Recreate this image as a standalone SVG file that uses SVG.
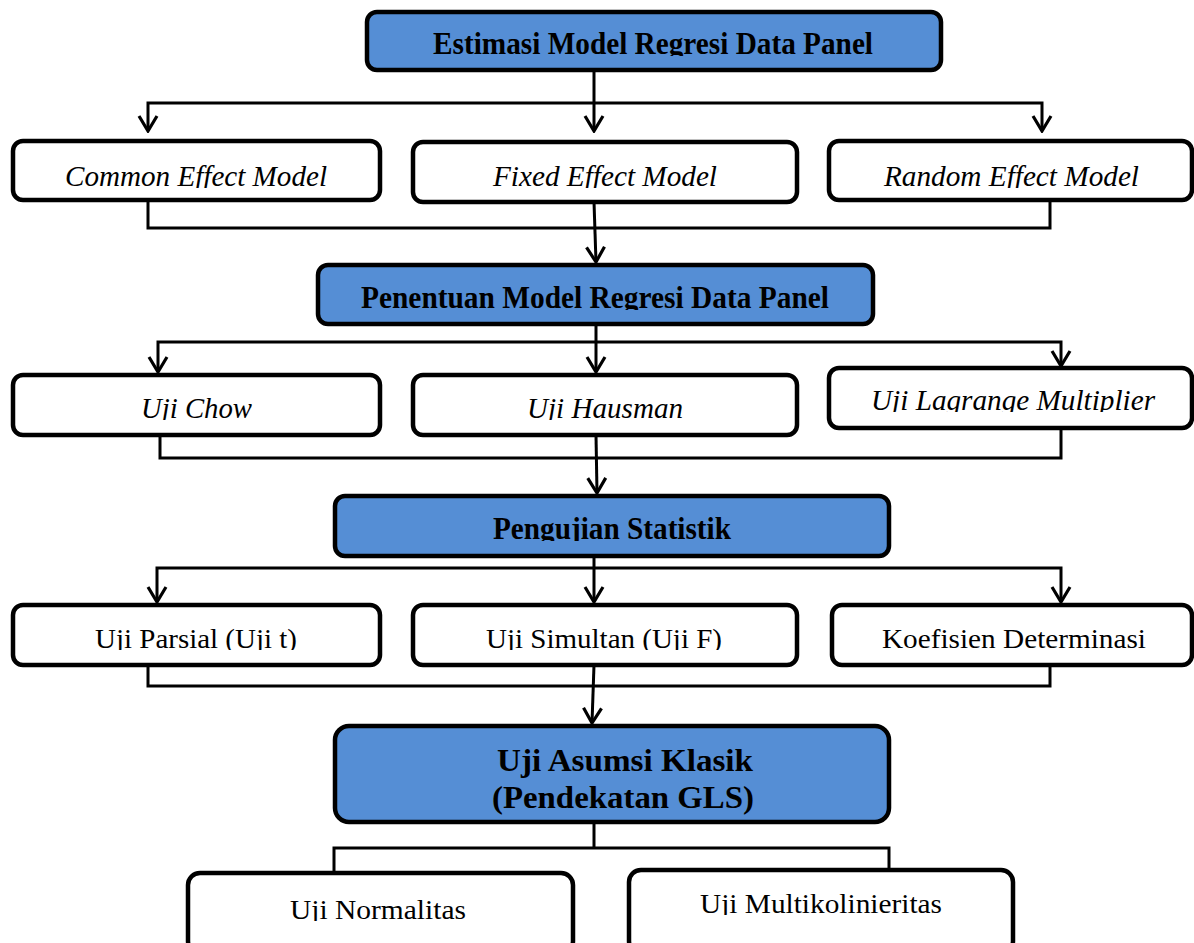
<svg xmlns="http://www.w3.org/2000/svg" width="1194" height="943" viewBox="0 0 1194 943">
<defs>
<marker id="arr" markerUnits="userSpaceOnUse" markerWidth="30" markerHeight="30" refX="28" refY="15" orient="auto-start-reverse" viewBox="0 0 30 30">
<polyline points="13,6 28,15 13,24" fill="none" stroke="#000" stroke-width="3.2" stroke-linejoin="miter"/>
</marker>
<clipPath id="c1" clipPathUnits="userSpaceOnUse"><rect x="0" y="0" width="1194" height="56"/></clipPath>
<clipPath id="c2" clipPathUnits="userSpaceOnUse"><rect x="0" y="0" width="1194" height="188"/></clipPath>
<clipPath id="c3" clipPathUnits="userSpaceOnUse"><rect x="0" y="0" width="1194" height="310"/></clipPath>
<clipPath id="c4" clipPathUnits="userSpaceOnUse"><rect x="0" y="0" width="1194" height="420"/></clipPath>
<clipPath id="c5" clipPathUnits="userSpaceOnUse"><rect x="0" y="0" width="1194" height="412"/></clipPath>
<clipPath id="c6" clipPathUnits="userSpaceOnUse"><rect x="0" y="0" width="1194" height="541"/></clipPath>
<clipPath id="c7" clipPathUnits="userSpaceOnUse"><rect x="0" y="0" width="1194" height="650"/></clipPath>
<clipPath id="c8" clipPathUnits="userSpaceOnUse"><rect x="0" y="0" width="1194" height="921"/></clipPath>
<clipPath id="c9" clipPathUnits="userSpaceOnUse"><rect x="0" y="0" width="1194" height="915"/></clipPath>
<style>
.blue{fill:#558ED5;stroke:#000;stroke-width:4.5}
.white{fill:#fff;stroke:#000;stroke-width:4.5}
.ln{fill:none;stroke:#000;stroke-width:3}
text{fill:#000}
</style>
</defs>
<rect width="1194" height="943" fill="#fff"/>
<g id="connectors">
<line class="ln" x1="594" y1="70" x2="594" y2="131" marker-end="url(#arr)"/>
<polyline class="ln" points="148,131 148,103 1042,103 1042,131" marker-start="url(#arr)" marker-end="url(#arr)"/>
<polyline class="ln" points="148,200 148,228 1050,228 1050,200"/>
<line class="ln" x1="594" y1="202" x2="596" y2="262" marker-end="url(#arr)"/>
<line class="ln" x1="596" y1="324" x2="596" y2="372" marker-end="url(#arr)"/>
<polyline class="ln" points="158,372 158,342 1061,342 1061,366" marker-start="url(#arr)" marker-end="url(#arr)"/>
<polyline class="ln" points="160,435 160,458 1061,458 1061,428"/>
<line class="ln" x1="596" y1="435" x2="597" y2="493" marker-end="url(#arr)"/>
<line class="ln" x1="594" y1="556" x2="594" y2="602" marker-end="url(#arr)"/>
<polyline class="ln" points="157,602 157,568 1061,568 1061,602" marker-start="url(#arr)" marker-end="url(#arr)"/>
<polyline class="ln" points="148,665 148,686 1050,686 1050,665"/>
<line class="ln" x1="594" y1="665" x2="592" y2="723" marker-end="url(#arr)"/>
<line class="ln" x1="594" y1="822" x2="594" y2="848"/>
<polyline class="ln" points="334,872 334,848 889,848 889,869"/>
</g>
<g font-family="Liberation Serif, Tinos, Times New Roman, Times, serif">
<g id="n1" font-weight="bold" font-size="31"><rect class="blue" x="367" y="12" width="574" height="58" rx="10"/><text clip-path="url(#c1)" x="433" y="54" textLength="440" lengthAdjust="spacingAndGlyphs">Estimasi Model Regresi Data Panel</text></g>
<g id="n2" font-style="italic" font-size="30"><rect class="white" x="13" y="141" width="367" height="59" rx="10"/><text clip-path="url(#c2)" x="65" y="186" textLength="262" lengthAdjust="spacingAndGlyphs">Common Effect Model</text></g>
<g id="n3" font-style="italic" font-size="30"><rect class="white" x="413" y="142" width="384" height="60" rx="10"/><text clip-path="url(#c2)" x="493" y="186" textLength="224" lengthAdjust="spacingAndGlyphs">Fixed Effect Model</text></g>
<g id="n4" font-style="italic" font-size="30"><rect class="white" x="829" y="141" width="363" height="59" rx="10"/><text clip-path="url(#c2)" x="884" y="186" textLength="255" lengthAdjust="spacingAndGlyphs">Random Effect Model</text></g>
<g id="n5" font-weight="bold" font-size="31"><rect class="blue" x="318" y="265" width="555" height="59" rx="10"/><text clip-path="url(#c3)" x="361" y="308" textLength="468" lengthAdjust="spacingAndGlyphs">Penentuan Model Regresi Data Panel</text></g>
<g id="n6" font-style="italic" font-size="30"><rect class="white" x="13" y="375" width="367" height="60" rx="10"/><text clip-path="url(#c4)" x="141" y="418" textLength="111" lengthAdjust="spacingAndGlyphs">Uji Chow</text></g>
<g id="n7" font-style="italic" font-size="30"><rect class="white" x="413" y="375" width="384" height="60" rx="10"/><text clip-path="url(#c4)" x="527" y="418" textLength="156" lengthAdjust="spacingAndGlyphs">Uji Hausman</text></g>
<g id="n8" font-style="italic" font-size="30"><rect class="white" x="829" y="368" width="363" height="60" rx="10"/><text clip-path="url(#c5)" x="871" y="410" textLength="284" lengthAdjust="spacingAndGlyphs">Uji Lagrange Multiplier</text></g>
<g id="n9" font-weight="bold" font-size="31"><rect class="blue" x="335" y="496" width="554" height="60" rx="10"/><text clip-path="url(#c6)" x="493" y="539" textLength="238" lengthAdjust="spacingAndGlyphs">Pengujian Statistik</text></g>
<g id="n10" font-size="27"><rect class="white" x="13" y="605" width="367" height="60" rx="10"/><text clip-path="url(#c7)" x="95" y="648" textLength="202" lengthAdjust="spacingAndGlyphs">Uji Parsial (Uji t)</text></g>
<g id="n11" font-size="27"><rect class="white" x="413" y="605" width="384" height="60" rx="10"/><text clip-path="url(#c7)" x="486" y="648" textLength="236" lengthAdjust="spacingAndGlyphs">Uji Simultan (Uji F)</text></g>
<g id="n12" font-size="27"><rect class="white" x="832" y="605" width="360" height="60" rx="10"/><text clip-path="url(#c7)" x="882" y="648" textLength="264" lengthAdjust="spacingAndGlyphs">Koefisien Determinasi</text></g>
<g id="n13" font-weight="bold" font-size="31"><rect class="blue" x="335" y="726" width="554" height="96" rx="14"/><text x="497" y="771" textLength="256" lengthAdjust="spacingAndGlyphs">Uji Asumsi Klasik</text><text x="492" y="808" textLength="262" lengthAdjust="spacingAndGlyphs">(Pendekatan GLS)</text></g>
<g id="n14" font-size="27"><rect class="white" x="188" y="873" width="385" height="80" rx="12"/><text clip-path="url(#c8)" x="290" y="919" textLength="176" lengthAdjust="spacingAndGlyphs">Uji Normalitas</text></g>
<g id="n15" font-size="27"><rect class="white" x="629" y="870" width="384" height="83" rx="12"/><text clip-path="url(#c9)" x="700" y="913" textLength="242" lengthAdjust="spacingAndGlyphs">Uji Multikolinieritas</text></g>
</g>
</svg>
